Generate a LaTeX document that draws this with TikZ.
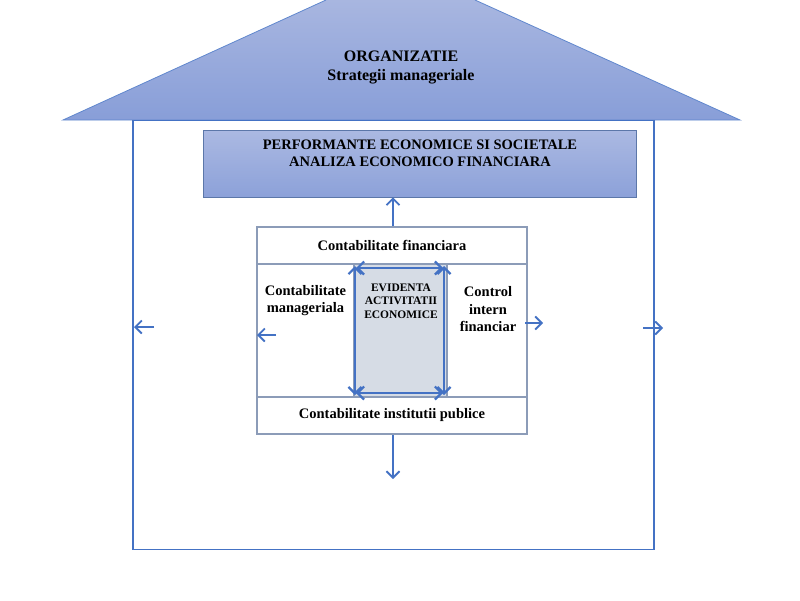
\documentclass[tikz,border=0pt]{standalone}
\usepackage{fontspec}
\setmainfont{Liberation Serif}
\usetikzlibrary{positioning,arrows.meta}
\definecolor{roofTop}{HTML}{A8B6E0}
\definecolor{roofBot}{HTML}{889ED8}
\definecolor{perfTop}{HTML}{ABB9E2}
\definecolor{perfBot}{HTML}{8CA1D9}
\definecolor{edgeBlue}{HTML}{4472C4}
\definecolor{cellGray}{HTML}{8C9CB8}
\definecolor{evidFill}{HTML}{D6DCE5}
\begin{document}
\begin{tikzpicture}[x=1pt, y=-1pt, font=\bfseries,
    cell/.style = {draw=cellGray, line width=2pt, inner sep=0pt},
    txt/.style = {align=center, inner sep=0pt},
    arr/.style = {draw=edgeBlue, line width=1.8pt, -{Straight Barb[length=6.5pt,width=13pt]}},
    dbl/.style = {draw=edgeBlue, line width=2.2pt, {Straight Barb[length=6.5pt,width=13pt]}-{Straight Barb[length=6.5pt,width=13pt]}}]
  \useasboundingbox (0,0) rectangle (800,600);
  % roof
  \shade[top color=roofTop, bottom color=roofBot] (63,120) -- (326,0) -- (475,0) -- (740,120) -- cycle;
  \draw[edgeBlue!85, line width=0.8pt] (326,0) -- (63,120) -- (740,120) -- (475,0);
  \node[txt, font=\bfseries\fontsize{16}{19}\selectfont] (org) at (401,67) {ORGANIZATIE\\Strategii manageriale};
  % house body
  \node[draw=edgeBlue, line width=1.3pt, minimum width=521pt, minimum height=429pt] (house) at (393.5,335) {};
  % top box
  \node[draw=edgeBlue!60!gray, line width=0.8pt, top color=perfTop, bottom color=perfBot, minimum width=433pt, minimum height=67pt] (perf) at (420,163.5) {};
  \node[txt, font=\bfseries\fontsize{14.5}{16.5}\selectfont, anchor=north, yshift=-10.5pt] (perftxt) at (perf.north) {PERFORMANTE ECONOMICE SI SOCIETALE\\ANALIZA ECONOMICO FINANCIARA};
  % grid of cells
  \node[cell, fill=evidFill, minimum width=93pt, minimum height=133pt] (cev) at (400.5,330.5) {};
  \node[cell, minimum width=97pt, minimum height=133pt] (cmg) at (305.5,330.5) {};
  \node[cell, minimum width=80pt, minimum height=133pt] (cci) at (487,330.5) {};
  \node[cell, minimum width=270pt, minimum height=37pt, font=\bfseries\fontsize{14.5}{16}\selectfont] (fin) at (392,245.5) {Contabilitate financiara};
  \node[cell, minimum width=270pt, minimum height=37pt, font=\bfseries\fontsize{14.5}{16}\selectfont] (pub) at (392,415.5) {Contabilitate institutii publice};
  \node[txt, font=\bfseries\fontsize{14.5}{17.5}\selectfont] (mgtxt) at (305.5,300.5) {Contabilitate\\manageriala};
  \node[txt, font=\bfseries\fontsize{14.5}{17.5}\selectfont] (citxt) at (488,309.5) {Control\\intern\\financiar};
  \node[txt, font=\bfseries\fontsize{11.5}{13.5}\selectfont] (evtxt) at (401,301) {EVIDENTA\\ACTIVITATII\\ECONOMICE};
  % inner frame of arrows
  \coordinate (evtl) at ([shift={(2,5)}]cev.north west);
  \coordinate (evtr) at ([shift={(-4,5)}]cev.north east);
  \coordinate (evbl) at ([shift={(2,-5)}]cev.south west);
  \coordinate (evbr) at ([shift={(-4,-5)}]cev.south east);
  \draw[dbl] ([xshift=1pt]evtl) -- ([xshift=-1pt]evtr);
  \draw[dbl] ([xshift=1pt]evbl) -- ([xshift=-1pt]evbr);
  \draw[dbl] ([yshift=2pt]evtl) -- ([yshift=-2pt]evbl);
  \draw[dbl] ([yshift=2pt]evtr) -- ([yshift=-2pt]evbr);
  % outgoing arrows
  \coordinate (down) at (393,479);
  \coordinate (hl0) at (154,327);
  \coordinate (hl1) at (134,327);
  \coordinate (hr0) at (643,328);
  \coordinate (hr1) at (663,328);
  \coordinate (ml0) at ([shift={(20,4.5)}]cmg.west);
  \coordinate (ml1) at ([shift={(1,4.5)}]cmg.west);
  \coordinate (cr0) at ([shift={(-3,-7.5)}]cci.east);
  \coordinate (cr1) at ([shift={(15,-7.5)}]cci.east);
  \draw[arr] ([xshift=1pt]fin.north) -- ([xshift=1pt]perf.south -| fin.north);
  \draw[arr] ([xshift=1pt]pub.south) -- (down);
  \draw[arr] (hl0) -- (hl1);
  \draw[arr] (hr0) -- (hr1);
  \draw[arr] (ml0) -- (ml1);
  \draw[arr] (cr0) -- (cr1);
\end{tikzpicture}
\end{document}
